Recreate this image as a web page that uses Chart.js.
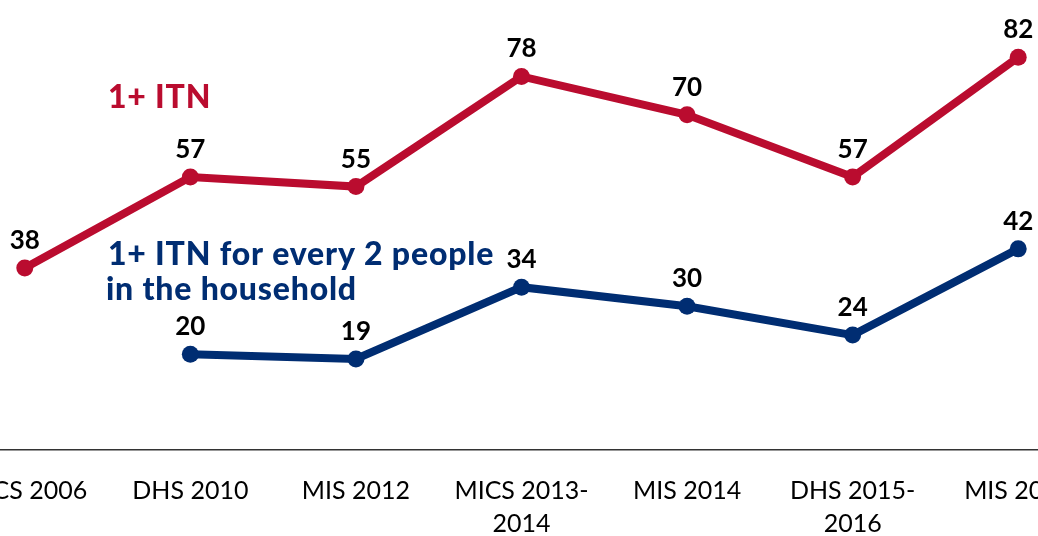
<!DOCTYPE html>
<html>
<head>
<meta charset="utf-8">
<script src="https://cdn.jsdelivr.net/npm/chart.js@4.4.1/dist/chart.umd.min.js"></script>
<style>
  html, body { margin: 0; padding: 0; overflow: hidden; background: #fff; }
  /* canvas is larger than the window so the outer labels run off the edges */
  #wrap { position: absolute; left: -100px; top: 0; width: 1238px; height: 564px; }
</style>
</head>
<body>
<div id="wrap"><canvas id="itn-chart"></canvas></div>
<script>
// Survey rounds and ITN coverage (%)
const surveys = ['MICS 2006', 'DHS 2010', 'MIS 2012', ['MICS 2013-', '2014'], 'MIS 2014', ['DHS 2015-', '2016'], 'MIS 2017'];
const anyItn = [38, 57, 55, 78, 70, 57, 82];
const itnPerTwo = [null, 20, 19, 34, 30, 24, 42];

const RED = '#BA0C2F';
const NAVY = '#002D72';
const SHIFT = 100; // canvas x offset against the window

// Value labels above each point
const valueLabels = {
  id: 'valueLabels',
  afterDatasetsDraw(chart) {
    const ctx = chart.ctx;
    ctx.save();
    ctx.font = 'bold 26px Lato, sans-serif';
    ctx.fillStyle = '#000';
    ctx.textAlign = 'center';
    ctx.textBaseline = 'alphabetic';
    chart.data.datasets.forEach((ds, i) => {
      chart.getDatasetMeta(i).data.forEach((pt, j) => {
        const v = ds.data[j];
        if (v === null || v === undefined) return;
        ctx.fillText(String(v), pt.x, pt.y - 19);
      });
    });
    ctx.restore();
  },
};

// Series names written straight onto the plot
const seriesNames = {
  id: 'seriesNames',
  afterDraw(chart) {
    const ctx = chart.ctx;
    ctx.save();
    ctx.font = '900 32px Lato, sans-serif';
    ctx.letterSpacing = '0.8px';
    ctx.textAlign = 'left';
    ctx.textBaseline = 'alphabetic';
    ctx.fillStyle = RED;
    ctx.fillText('1+ ITN', SHIFT + 108, 108);
    ctx.fillStyle = NAVY;
    ctx.fillText('1+ ITN for every 2 people', SHIFT + 108, 265);
    ctx.fillText('in the household', SHIFT + 106, 300);
    ctx.restore();
  },
};

new Chart(document.getElementById('itn-chart'), {
  type: 'line',
  data: {
    labels: surveys,
    datasets: [
      {
        label: '1+ ITN',
        data: anyItn,
        borderColor: RED,
        backgroundColor: RED,
        borderWidth: 8,
        pointRadius: 8.5,
        pointBorderWidth: 0,
        tension: 0,
      },
      {
        label: '1+ ITN for every 2 people in the household',
        data: itnPerTwo,
        borderColor: NAVY,
        backgroundColor: NAVY,
        borderWidth: 8,
        pointRadius: 8.5,
        pointBorderWidth: 0,
        tension: 0,
      },
    ],
  },
  options: {
    responsive: true,
    maintainAspectRatio: false,
    animation: false,
    layout: { padding: { left: 42, right: 37, top: 19, bottom: 0 } },
    plugins: {
      legend: { display: false },
      tooltip: { enabled: false },
    },
    scales: {
      x: {
        offset: true,
        grid: { display: false, drawTicks: false },
        border: { display: true, color: '#333', width: 1.5 },
        ticks: {
          color: '#000',
          padding: 24,
          maxRotation: 0,
          autoSkip: false,
          font: { family: 'Lato, sans-serif', size: 25, lineHeight: 1.32 },
        },
      },
      y: {
        display: false,
        min: 0,
        max: 90,
      },
    },
  },
  plugins: [valueLabels, seriesNames],
});
</script>
</body>
</html>
